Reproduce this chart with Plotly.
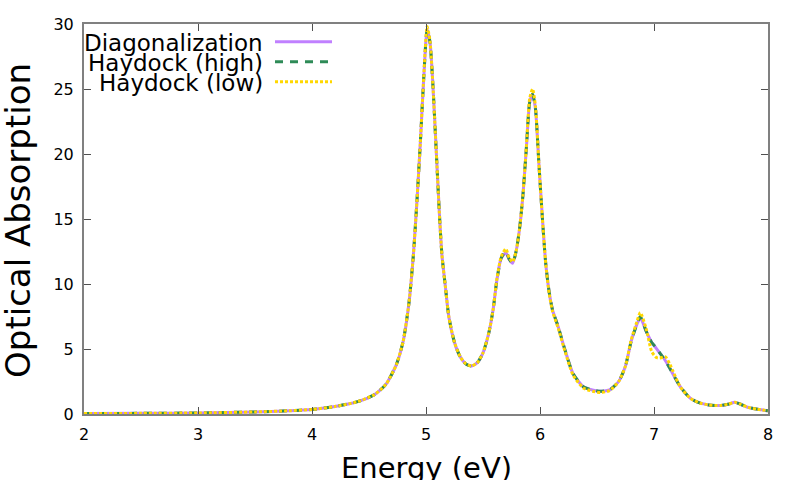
import plotly.graph_objects as go

# photon energy grid (eV)
energy = [2.0, 2.5, 3.0, 3.5, 3.8, 4.0, 4.2, 4.4, 4.55, 4.65, 4.74, 4.80, 4.85,
          4.89, 4.92, 4.95, 4.98, 5.01, 5.035, 5.06, 5.09, 5.12, 5.14, 5.17,
          5.20, 5.25, 5.30, 5.35, 5.40, 5.45, 5.50, 5.55, 5.59, 5.62, 5.66,
          5.70, 5.73, 5.76, 5.79, 5.82, 5.85, 5.88, 5.91, 5.935, 5.96, 5.99,
          6.02, 6.05, 6.08, 6.11, 6.16, 6.22, 6.29, 6.38, 6.46, 6.53, 6.61,
          6.69, 6.75, 6.80, 6.85, 6.88, 6.93, 6.98, 7.02, 7.05, 7.10, 7.14,
          7.23, 7.32, 7.40, 7.48, 7.58, 7.65, 7.71, 7.76, 7.82, 7.90, 8.0]

diag = [0.03, 0.05, 0.08, 0.16, 0.25, 0.35, 0.57, 0.95, 1.5, 2.3, 3.8, 5.6, 8.5,
        12.3, 16.3, 20.8, 25.8, 29.6, 28.6, 25.4, 20.2, 15.0, 12.2, 9.8,
        7.5, 5.5, 4.4, 3.85, 3.7, 3.95, 4.7, 6.2, 8.1, 10.2, 12.0,
        12.4, 11.9, 11.6, 12.5, 14.2, 16.8, 20.4, 24.0, 24.6, 23.5, 19.3,
        15.2, 11.6, 9.4, 8.0, 6.7, 4.9, 3.1, 2.1, 1.85, 1.75, 1.85,
        2.5, 3.7, 5.6, 6.9, 7.4, 6.4, 5.5, 5.05, 4.7, 4.1, 3.5,
        2.1, 1.2, 0.85, 0.7, 0.65, 0.75, 0.9, 0.75, 0.52, 0.38, 0.25]

hay_high = [0.03, 0.05, 0.08, 0.16, 0.25, 0.35, 0.57, 0.95, 1.5, 2.3, 3.8, 5.6, 8.5,
            12.3, 16.3, 20.8, 25.8, 29.6, 28.6, 25.4, 20.2, 15.0, 12.2, 9.8,
            7.5, 5.5, 4.4, 3.85, 3.7, 3.95, 4.7, 6.2, 8.1, 10.2, 12.0,
            12.5, 11.9, 11.6, 12.5, 14.2, 16.8, 20.4, 24.0, 24.6, 23.5, 19.3,
            15.2, 11.6, 9.4, 8.0, 6.7, 4.9, 3.1, 2.1, 1.85, 1.75, 1.85,
            2.5, 3.7, 5.6, 6.9, 7.5, 6.4, 5.5, 5.1, 4.7, 4.1, 3.5,
            2.1, 1.2, 0.85, 0.7, 0.65, 0.75, 0.9, 0.75, 0.52, 0.38, 0.25]

hay_low = [0.03, 0.05, 0.08, 0.16, 0.25, 0.35, 0.57, 0.95, 1.5, 2.3, 3.8, 5.6, 8.5,
           12.3, 16.3, 20.8, 25.9, 29.8, 28.7, 25.4, 20.2, 15.0, 12.2, 9.8,
           7.5, 5.5, 4.4, 3.85, 3.7, 3.95, 4.7, 6.2, 8.1, 10.3, 12.1,
           12.7, 12.0, 11.7, 12.5, 14.2, 16.8, 20.5, 24.3, 25.0, 23.7, 19.3,
           15.2, 11.6, 9.3, 7.9, 6.6, 4.8, 3.0, 2.0, 1.75, 1.65, 1.8,
           2.5, 3.7, 5.7, 7.1, 7.8, 6.6, 4.8, 4.35, 4.3, 4.4, 3.8,
           2.1, 1.2, 0.85, 0.7, 0.65, 0.75, 0.9, 0.75, 0.52, 0.38, 0.25]

series = [
    ("Diagonalization", diag, "#c080ff", "solid"),
    ("Haydock (high)", hay_high, "#2e8b57", "8px,7px"),
    ("Haydock (low)", hay_low, "#ffd700", "3px,2px"),
]

x_ticks = [2, 3, 4, 5, 6, 7, 8]
y_ticks = [0, 5, 10, 15, 20, 25, 30]

FONT = "DejaVu Sans, Liberation Sans, sans-serif"
PW, PH = 684, 390   # plot area in px, used to place the paper-coordinate texts

fig = go.Figure()
for name, vals, col, dash in series:
    fig.add_trace(go.Scatter(
        x=energy, y=vals, mode="lines", name=name, showlegend=False,
        line=dict(color=col, width=3, dash=dash, shape="spline", smoothing=0.6),
    ))

axis_common = dict(
    showgrid=False, zeroline=False, showline=True, linecolor="#808080",
    linewidth=2, mirror="ticks", ticks="inside", ticklen=7, tickwidth=1,
    tickcolor="#505050", tickfont=dict(size=16, color="black", family=FONT),
    automargin=False,
)
fig.update_xaxes(range=[2, 8], tickvals=x_ticks, ticklabelstandoff=5, **axis_common)
fig.update_yaxes(range=[0, 30], tickvals=y_ticks, ticklabelstandoff=5, **axis_common)

# axis titles as annotations so the margins stay put
fig.add_annotation(xref="paper", yref="paper", x=0.5, y=-54 / PH,
                   text="Energy (eV)", showarrow=False, yanchor="middle",
                   font=dict(size=29, family=FONT, color="black"))
fig.add_annotation(xref="paper", yref="paper", x=-66 / PW, y=0.495,
                   text="Optical Absorption", showarrow=False, textangle=-90,
                   xanchor="center", yanchor="middle",
                   font=dict(size=34, family=FONT, color="black"))

# key drawn gnuplot-style: text right aligned, sample line to the right
key_rows = [43, 63, 83]
for (name, vals, col, dash), py in zip(series, key_rows):
    yp = (414 - py) / PH
    fig.add_annotation(xref="paper", yref="paper", x=(265 - 84) / PW, y=yp,
                       text=name, showarrow=False, xanchor="right", yanchor="middle",
                       font=dict(size=23, family=FONT, color="black"))
    fig.add_shape(type="line", xref="paper", yref="paper",
                  x0=(275 - 84) / PW, x1=(332 - 84) / PW, y0=yp + 0.003, y1=yp + 0.003,
                  line=dict(color=col, width=3, dash=dash))

fig.update_layout(
    width=800, height=480,
    margin=dict(l=84, r=32, t=24, b=66),
    plot_bgcolor="white", paper_bgcolor="white",
    font=dict(family=FONT),
)

# drop the default 8px body margin so the figure fills the window
fig.write_html("out.html", config={"displayModeBar": False},
               post_script="document.body.style.margin = '0';")
